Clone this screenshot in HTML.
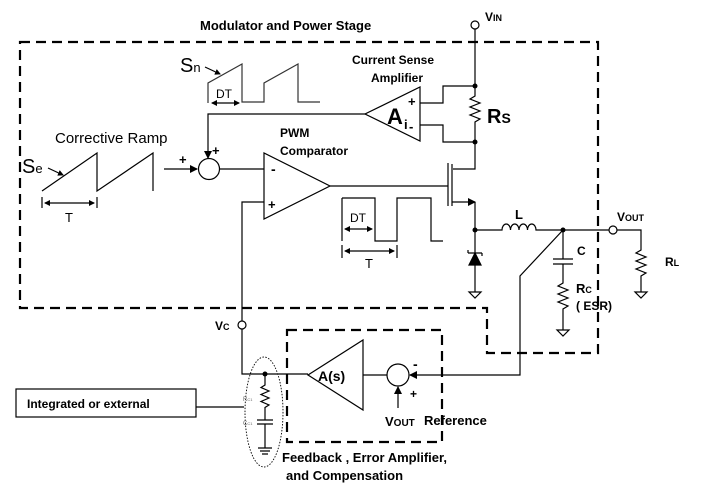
<!DOCTYPE html>
<html><head><meta charset="utf-8"><style>
body{margin:0;background:#fff}
svg{display:block}
text{font-family:"Liberation Sans",Arial,sans-serif;fill:#000}
.b{font-weight:bold}
</style></head><body>
<svg width="722" height="493" viewBox="0 0 722 493" xmlns="http://www.w3.org/2000/svg">
<defs><marker id="a" markerWidth="8" markerHeight="8" refX="7" refY="4" orient="auto" markerUnits="userSpaceOnUse"><path d="M0,0 L8,4 L0,8 Z" fill="#000"/></marker>
<marker id="s" markerWidth="6" markerHeight="6" refX="5" refY="3" orient="auto-start-reverse" markerUnits="userSpaceOnUse"><path d="M0,0 L6,3 L0,6 Z" fill="#000"/></marker></defs>
<g fill="none" stroke="#000" stroke-width="1.2">
<path d="M20,42 H598 V353 H487 V308 H20 Z" stroke-width="2.2" stroke-dasharray="10,6"/>
<rect x="287" y="330" width="155" height="112" stroke-width="2.2" stroke-dasharray="10,6"/>
<circle cx="475" cy="25" r="4" fill="#fff"/>
<path d="M475,29 V96 l-5,3 10,4 -10,4 10,4 -10,4 10,4 -5,3 V169 H453"/>
<path d="M452,164 V206 M448,163 V206"/>
<path d="M452,202 H475" marker-end="url(#a)"/>
<path d="M475,202 V292"/>
<path d="M330,186 H448"/>
<path d="M468,253 H482 M468,253 v-3 M482,253 v3"/>
<path d="M475,253 L469,265 H481 Z" fill="#000"/>
<path d="M469,292 H481 L475,298 Z"/>
<path d="M420,87 V141 L365,114 Z"/>
<path d="M420,103 H443 V86 H475 M420,125 H443 V142 H475"/>
<path d="M365,114 H208 V158" marker-end="url(#a)"/>
<circle cx="209" cy="169" r="10.5"/>
<path d="M164,169 H197" marker-end="url(#a)"/>
<path d="M264,153 V219 L330,186 Z"/>
<path d="M220,169 H264 M264,202 H242 V321 M242,329 V374 H308"/>
<circle cx="242" cy="325" r="4" fill="#fff"/>
<path d="M42,191 L97,153 V191 L153,153 V191"/>
<path d="M42,197 V208 M97,197 V208"/>
<path d="M45,203 H94" marker-start="url(#s)" marker-end="url(#s)"/>
<path d="M48,168 L63,175" marker-end="url(#s)"/>
<path d="M208,103 V83 L242,64 V102 H264 V83 L298,64 V102 H320" stroke="#333"/>
<path d="M212,103 H239" marker-start="url(#s)" marker-end="url(#s)"/>
<path d="M205,67 L220,74" marker-end="url(#s)"/>
<path d="M342,198 V241 M342,198 H375 V241 H397 V198 H431 V241 H443"/>
<path d="M345,229 H372" marker-start="url(#s)" marker-end="url(#s)"/>
<path d="M342,245 V258 M397,245 V258"/>
<path d="M345,251 H394" marker-start="url(#s)" marker-end="url(#s)"/>
<path d="M475,230 H502 a4.25,6 0 0 1 8.5,0 a4.25,6 0 0 1 8.5,0 a4.25,6 0 0 1 8.5,0 a4.25,6 0 0 1 8.5,0 H609"/>
<circle cx="613" cy="230" r="4" fill="#fff"/>
<path d="M617,230 H641 V250 l-5,3 10,4 -10,4 10,4 -10,4 10,4 -5,3 V292"/>
<path d="M635,292 H647 L641,298 Z"/>
<path d="M563,230 V259 M553,259 H573 M553,264 H573 M563,264 V283 l-5,3 10,4 -10,4 10,4 -10,4 10,4 -5,3 V330"/>
<path d="M557,330 H569 L563,336 Z"/>
<path d="M563,230 L520,276 V375 H410" marker-end="url(#a)"/>
<circle cx="398" cy="375" r="11"/>
<path d="M398,408 V387" marker-end="url(#a)"/>
<path d="M363,340 V410 L308,375 Z"/>
<path d="M387,375 H363"/>
<path d="M265,374 V385 l-4,2.5 8,3.5 -8,3.5 8,3.5 -8,3.5 8,3.5 -4,2.5 V420 M257,420 H273 M257,424 H273 M265,424 V448 M258,448 H272 M260,451 H270 M262,454 H268"/>
<ellipse cx="264" cy="412" rx="19" ry="55" stroke-width="0.9" stroke-dasharray="1.5,1.5"/>
<rect x="16" y="389" width="180" height="28"/>
<path d="M196,407 H244"/>
</g>
<g fill="#000">
<circle cx="475" cy="86" r="2.5"/><circle cx="475" cy="142" r="2.5"/>
<circle cx="475" cy="230" r="2.5"/><circle cx="563" cy="230" r="2.5"/>
<circle cx="265" cy="374" r="2.5"/>
</g>
<text class="b" x="200" y="30" font-size="13">Modulator and Power Stage</text>
<text class="b" x="485" y="21" font-size="12">V<tspan font-size="9">IN</tspan></text>
<text class="b" x="352" y="64" font-size="12">Current Sense</text>
<text class="b" x="371" y="82" font-size="12">Amplifier</text>
<text class="b" x="387" y="124" font-size="22">A</text>
<text class="b" x="404" y="129" font-size="13">i</text>
<text class="b" x="408" y="106" font-size="13">+</text>
<text class="b" x="409" y="131" font-size="13">-</text>
<text class="b" x="487" y="123" font-size="20">R<tspan font-size="14">S</tspan></text>
<text class="b" x="280" y="137" font-size="12">PWM</text>
<text class="b" x="280" y="155" font-size="12">Comparator</text>
<text class="b" x="271" y="174" font-size="14">-</text>
<text class="b" x="268" y="209" font-size="13">+</text>
<text class="b" x="212" y="155" font-size="13">+</text>
<text class="b" x="179" y="164" font-size="13">+</text>
<text x="55" y="143" font-size="15">Corrective Ramp</text>
<text x="22" y="173" font-size="20">S<tspan font-size="13">e</tspan></text>
<text x="65" y="222" font-size="13">T</text>
<text x="180" y="72" font-size="20">S<tspan font-size="13">n</tspan></text>
<text x="216" y="98" font-size="12">DT</text>
<text x="350" y="222" font-size="12">DT</text>
<text x="365" y="268" font-size="13">T</text>
<text class="b" x="515" y="219" font-size="13">L</text>
<text class="b" x="577" y="255" font-size="12">C</text>
<text class="b" x="576" y="293" font-size="13">R<tspan font-size="9">C</tspan></text>
<text class="b" x="576" y="310" font-size="12">( ESR)</text>
<text class="b" x="617" y="221" font-size="12">V<tspan font-size="9">OUT</tspan></text>
<text class="b" x="665" y="266" font-size="12">R<tspan font-size="9">L</tspan></text>
<text class="b" x="215" y="330" font-size="12">V<tspan font-size="9">C</tspan></text>
<text class="b" x="318" y="381" font-size="14">A(s)</text>
<text class="b" x="413" y="369" font-size="14">-</text>
<text class="b" x="410" y="398" font-size="12">+</text>
<text class="b" x="385" y="426" font-size="13">V<tspan font-size="10">OUT</tspan></text>
<text class="b" x="424" y="425" font-size="13">Reference</text>
<text class="b" x="282" y="462" font-size="13">Feedback , Error Amplifier,</text>
<text class="b" x="286" y="480" font-size="13">and Compensation</text>
<text class="b" x="27" y="408" font-size="12">Integrated or external</text>
<text x="243" y="401" font-size="6" style="fill:#666">R<tspan font-size="4">C1</tspan></text>
<text x="243" y="425" font-size="6" style="fill:#666">C<tspan font-size="4">C1</tspan></text>
</svg>
</body></html>
